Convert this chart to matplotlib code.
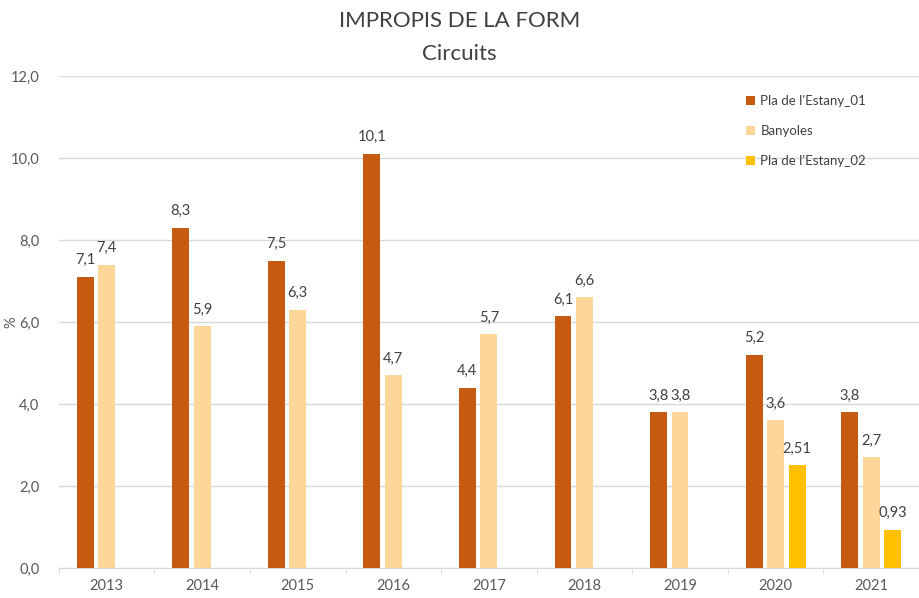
import matplotlib.pyplot as plt
import numpy as np

plt.rcParams["font.family"] = ["Lato", "DejaVu Sans"]

# dades
anys = ["2013", "2014", "2015", "2016", "2017", "2018", "2019", "2020", "2021"]
pla_01 = [7.1, 8.3, 7.5, 10.1, 4.4, 6.14, 3.8, 5.2, 3.8]
banyoles = [7.4, 5.9, 6.3, 4.7, 5.7, 6.6, 3.8, 3.6, 2.7]
pla_02 = [None, None, None, None, None, None, None, 2.51, 0.93]

series = [
    ("Pla de l'Estany_01", pla_01, "#C55A11", 1),
    ("Banyoles", banyoles, "#FFD699", 1),
    ("Pla de l'Estany_02", pla_02, "#FFC000", 2),
]

fig = plt.figure(figsize=(9.19, 5.98), dpi=100)
ax = fig.add_axes([0.064, 0.050, 0.936, 0.823])

x = np.arange(len(anys))
width = 0.176
offsets = [-0.225, 0.0, 0.225]
text_col = "#404040"

for (name, vals, col, dec), off in zip(series, offsets):
    xs = [xi + off for xi, v in zip(x, vals) if v is not None]
    ys = [v for v in vals if v is not None]
    ax.bar(xs, ys, width, color=col, label=name, zorder=3)
    for xi, v in zip(xs, ys):
        txt = f"{v:.{dec}f}".replace(".", ",")
        ax.annotate(txt, (xi, v), xytext=(0, 7), textcoords="offset points",
                    ha="center", va="bottom", fontsize=10.5, color=text_col)

ax.set_ylim(0, 12)
ax.set_xlim(-0.5, 8.42)
ax.set_yticks(np.arange(0, 12.1, 2))
ax.set_yticklabels([f"{v:.1f}".replace(".", ",") for v in np.arange(0, 12.1, 2)])
ax.set_xticks(x)
ax.set_xticklabels(anys)
ax.set_xticks(np.arange(-0.5, 9, 1), minor=True)
ax.tick_params(axis="x", which="major", length=0, pad=8, labelsize=10.5, colors="#595959")
ax.tick_params(axis="x", which="minor", length=4, color="#D9D9D9", direction="out")
ax.tick_params(axis="y", length=0, pad=14, labelsize=10.5, colors="#595959")

ax.grid(axis="y", color="#D9D9D9", linewidth=1, zorder=0)
for s in ["top", "right", "left"]:
    ax.spines[s].set_visible(False)
ax.spines["bottom"].set_color("#D9D9D9")

ax.set_ylabel("%", fontsize=10.5, color="#595959")
ax.yaxis.set_label_coords(-0.047, 0.5)

fig.text(0.5, 0.965, "IMPROPIS DE LA FORM", ha="center", va="center",
         fontsize=16, color="#404040")
fig.text(0.5, 0.910, "Circuits", ha="center", va="center",
         fontsize=16, color="#404040")

leg = ax.legend(loc="upper left", bbox_to_anchor=(0.785, 0.985), frameon=False,
                fontsize=9.5, labelspacing=1.35, handlelength=0.7, handleheight=0.7,
                handletextpad=0.4)
for t in leg.get_texts():
    t.set_color(text_col)

plt.savefig("out.png", dpi=100)
plt.close()
